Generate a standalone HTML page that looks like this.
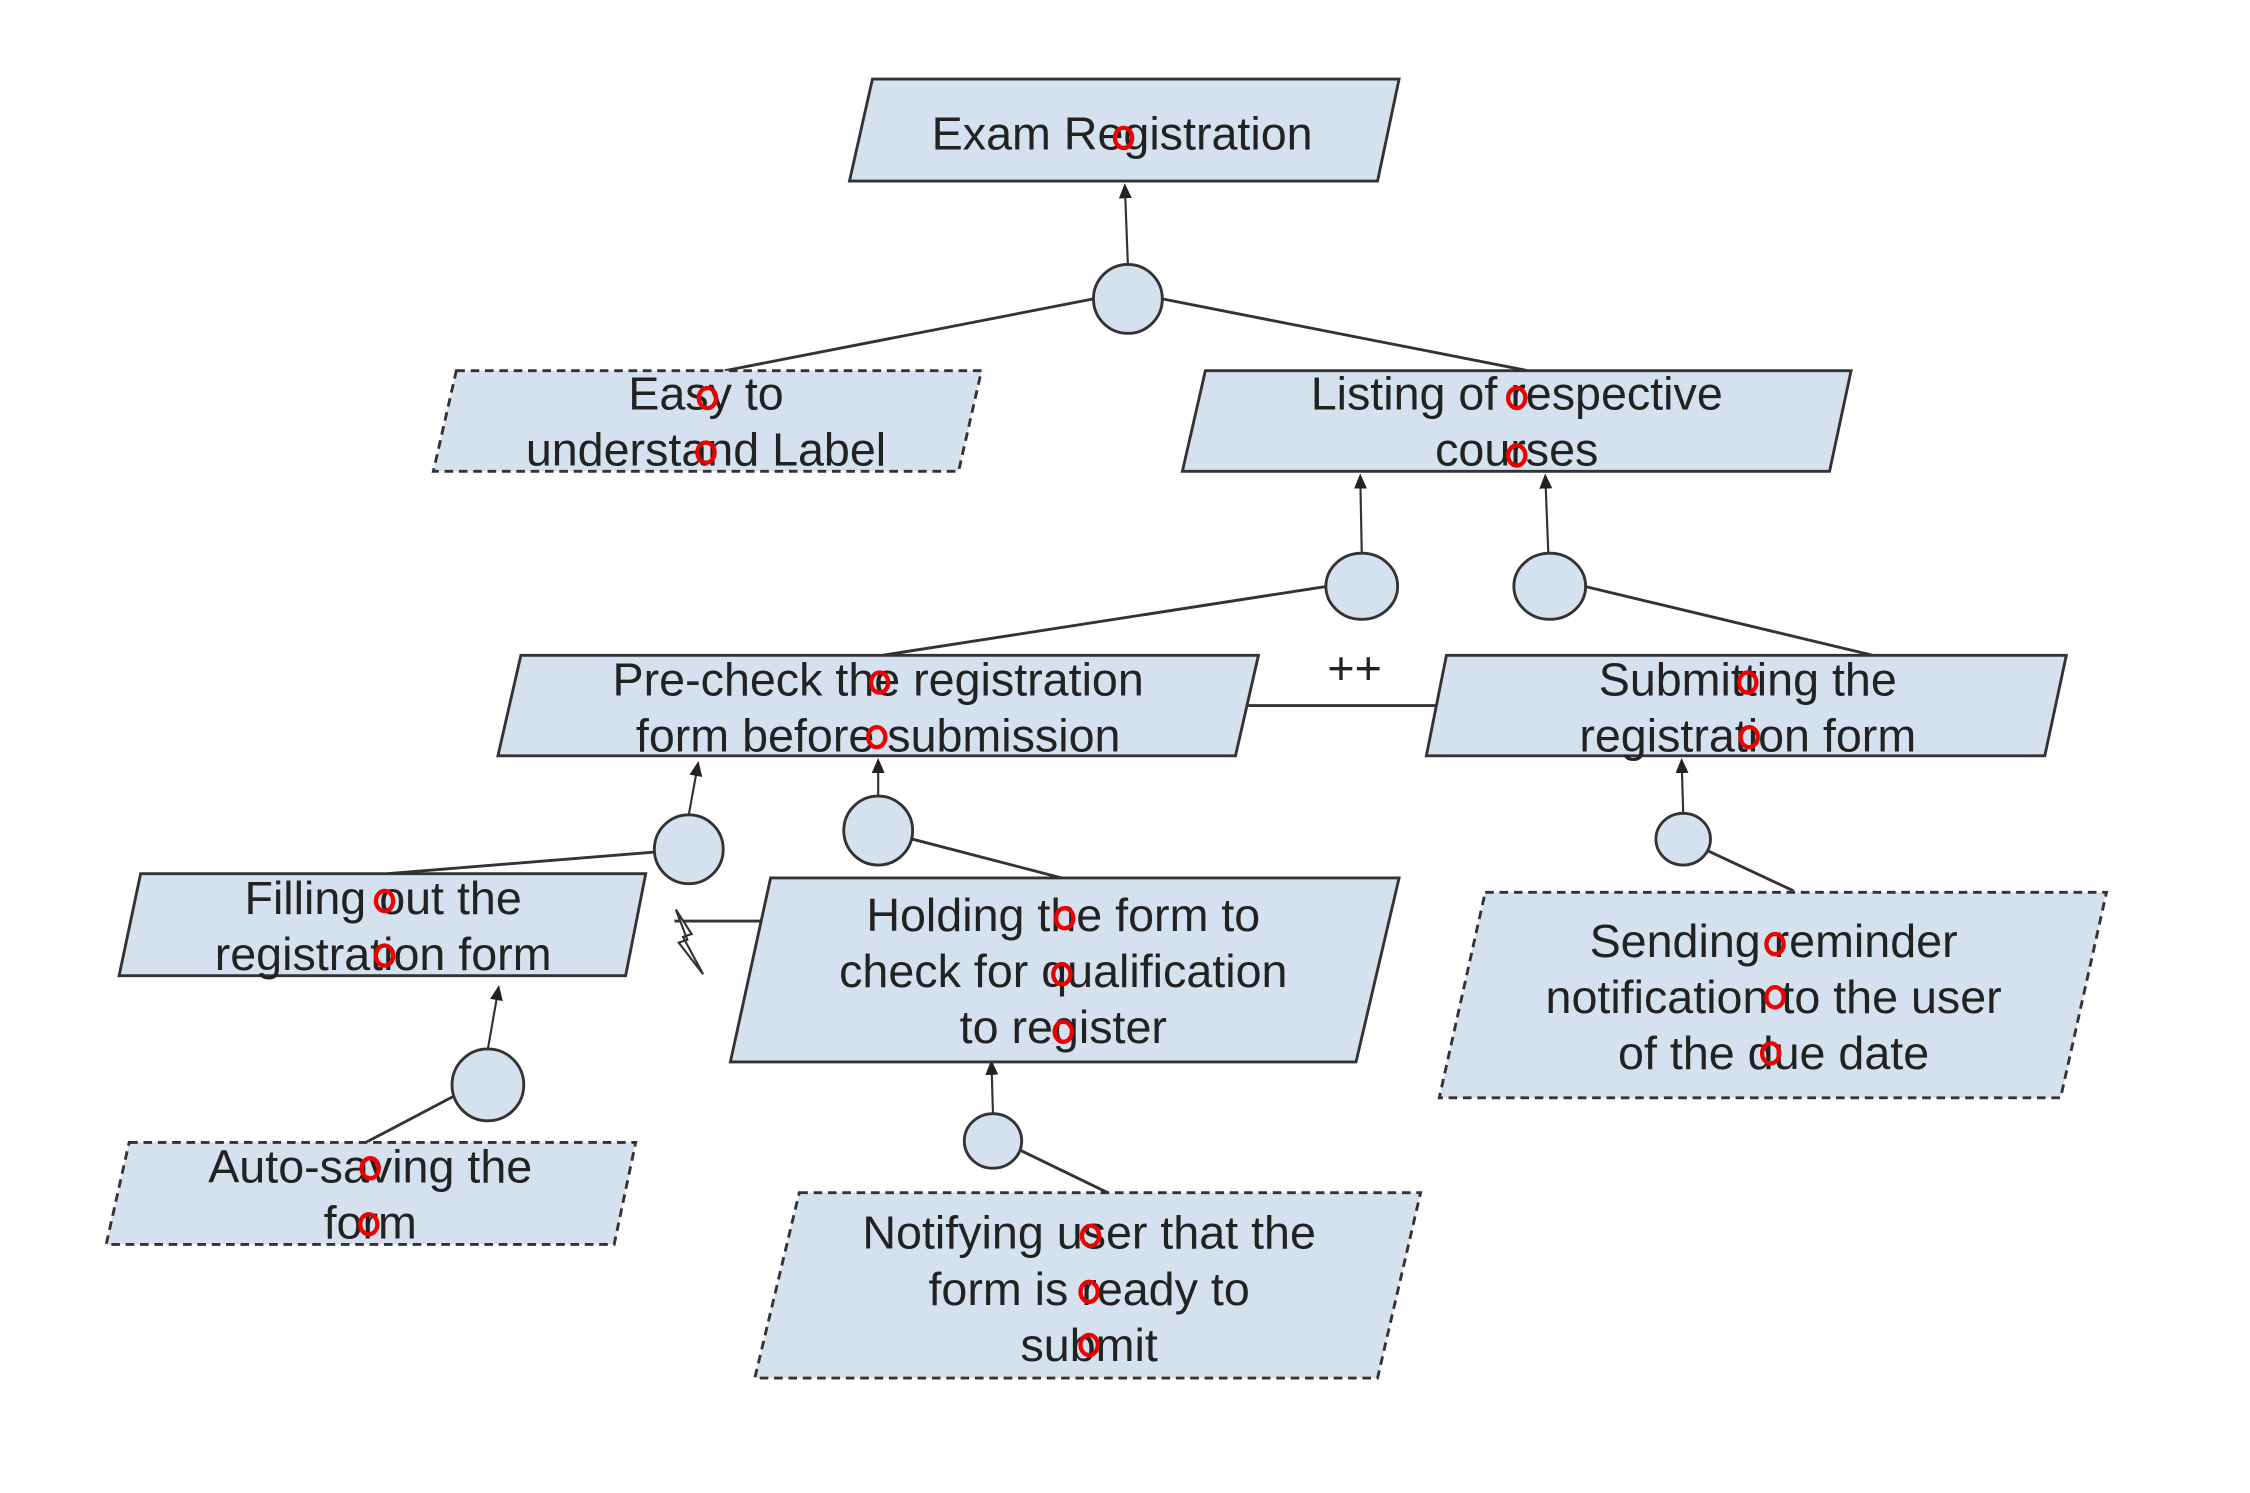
<!DOCTYPE html>
<html><head><meta charset="utf-8"><style>
html,body{margin:0;padding:0;background:#fff;}
svg{display:block;}
text{font-family:"Liberation Sans",sans-serif;font-size:32.5px;fill:#222;text-anchor:middle;}
</style></head><body>
<svg width="2250" height="1493" viewBox="0 0 1568 1039" preserveAspectRatio="none" xmlns="http://www.w3.org/2000/svg">
<defs><marker id="a" markerWidth="8" markerHeight="8" refX="4" refY="4" orient="auto"><path d="M0,1 L7,4 L0,7 z" fill="#222"/></marker></defs>
<g stroke="#333" stroke-width="2" fill="none">
<line x1="762" y1="208" x2="505" y2="258"/><line x1="810" y1="208" x2="1065" y2="258"/>
<line x1="925" y1="408" x2="615" y2="456"/><line x1="1104" y1="408" x2="1305" y2="456"/>
<line x1="870" y1="491" x2="1002" y2="491"/>
<line x1="456" y1="593" x2="270" y2="608"/><line x1="636" y1="584" x2="740" y2="611"/>
<line x1="1190" y1="592" x2="1250" y2="620"/>
<line x1="537" y1="641" x2="470" y2="641"/>
<line x1="316" y1="763" x2="255" y2="795"/><line x1="710" y1="800" x2="772" y2="830"/>
<g stroke-width="1.5" marker-end="url(#a)">
<line x1="786" y1="184" x2="784" y2="132"/>
<line x1="949" y1="385" x2="948" y2="334"/>
<line x1="1079" y1="385" x2="1077" y2="334"/>
<line x1="480" y1="567" x2="486" y2="534"/>
<line x1="612" y1="554" x2="612" y2="532"/>
<line x1="1173" y1="566" x2="1172" y2="532"/>
<line x1="340" y1="730" x2="347" y2="690"/>
<line x1="692" y1="775" x2="691" y2="742"/>
</g>
</g>
<path d="M471,633 L482,650 L476,652 L490,678 L473,656 L479,654 Z" fill="#fff" stroke="#333" stroke-width="1.5"/>
<text x="944" y="476" font-size="24">++</text>
<g fill="#d5e1ef" stroke="#333" stroke-width="2">
<polygon points="608,55 975,55 960,126 592,126"/>
<polygon points="840,258 1290,258 1275,328 824,328"/>
<polygon points="363,456 877,456 861,526 347,526"/>
<polygon points="1008,456 1440,456 1425,526 994,526"/>
<polygon points="98,608 450,608 436,679 83,679"/>
<polygon points="537,611 975,611 945,739 509,739"/>
<g stroke-dasharray="6,4">
<polygon points="318,258 684,258 668,328 302,328"/>
<polygon points="1035,621 1468,621 1436,764 1003,764"/>
<polygon points="90,795 443,795 428,866 74,866"/>
<polygon points="557,830 990,830 960,959 526,959"/>
</g>
<ellipse cx="786" cy="208" rx="24" ry="24"/>
<ellipse cx="949" cy="408" rx="25" ry="23"/>
<ellipse cx="1080" cy="408" rx="25" ry="23"/>
<ellipse cx="480" cy="591" rx="24" ry="24"/>
<ellipse cx="612" cy="578" rx="24" ry="24"/>
<ellipse cx="1173" cy="584" rx="19" ry="18"/>
<ellipse cx="340" cy="755" rx="25" ry="25"/>
<ellipse cx="692" cy="794" rx="20" ry="19"/>
</g>
<text x="782" y="104">Exam Registration</text>
<text x="492" y="285">Easy to</text><text x="492" y="324">understand Label</text>
<text x="1057" y="285">Listing of respective</text><text x="1057" y="324">courses</text>
<text x="612" y="484">Pre-check the registration</text><text x="612" y="523">form before submission</text>
<text x="1218" y="484">Submitting the</text><text x="1218" y="523">registration form</text>
<text x="267" y="636">Filling out the</text><text x="267" y="675">registration form</text>
<text x="741" y="648">Holding the form to</text><text x="741" y="687">check for qualification</text><text x="741" y="726">to register</text>
<text x="1236" y="666">Sending reminder</text><text x="1236" y="705">notification to the user</text><text x="1236" y="744">of the due date</text>
<text x="258" y="823">Auto-saving the</text><text x="258" y="862">form</text>
<text x="759" y="869">Notifying user that the</text><text x="759" y="908">form is ready to</text><text x="759" y="947">submit</text>
<g fill="none" stroke="#e00" stroke-width="3">
<ellipse cx="783" cy="96" rx="6" ry="7"/>
<ellipse cx="493" cy="277" rx="6" ry="7"/><ellipse cx="492" cy="315" rx="6" ry="7"/>
<ellipse cx="1057" cy="277" rx="6" ry="7"/><ellipse cx="1057" cy="317" rx="6" ry="7"/>
<ellipse cx="613" cy="475" rx="6" ry="7"/><ellipse cx="611" cy="513" rx="6" ry="7"/>
<ellipse cx="1218" cy="475" rx="6" ry="7"/><ellipse cx="1219" cy="513" rx="6" ry="7"/>
<ellipse cx="268" cy="627" rx="6" ry="7"/><ellipse cx="268" cy="665" rx="6" ry="7"/>
<ellipse cx="742" cy="639" rx="6" ry="7"/><ellipse cx="740" cy="678" rx="6" ry="7"/><ellipse cx="741" cy="718" rx="6" ry="7"/>
<ellipse cx="1237" cy="657" rx="6" ry="7"/><ellipse cx="1237" cy="694" rx="6" ry="7"/><ellipse cx="1234" cy="733" rx="6" ry="7"/>
<ellipse cx="258" cy="813" rx="6" ry="7"/><ellipse cx="257" cy="852" rx="6" ry="7"/>
<ellipse cx="760" cy="860" rx="6" ry="7"/><ellipse cx="759" cy="899" rx="6" ry="7"/><ellipse cx="759" cy="936" rx="6" ry="7"/>
</g>
</svg>
</body></html>
